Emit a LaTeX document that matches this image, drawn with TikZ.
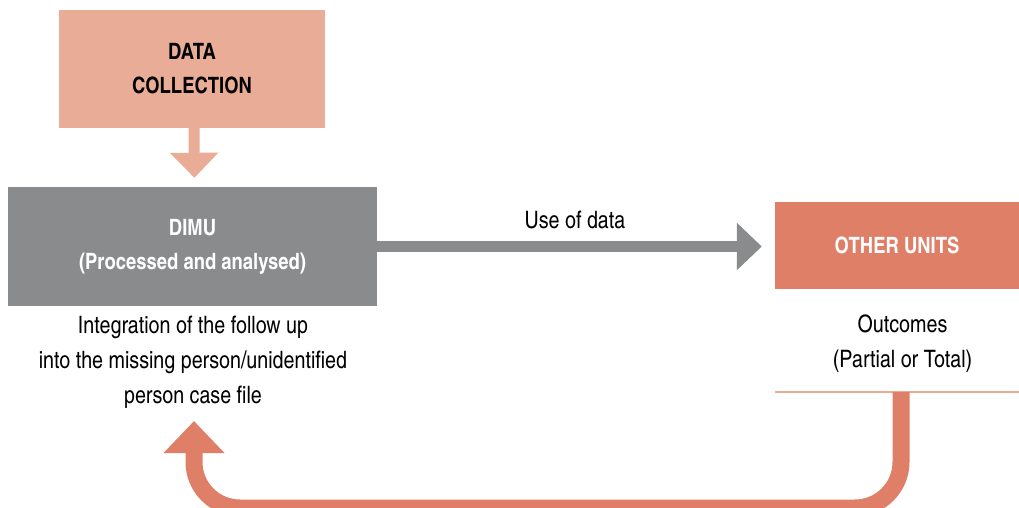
\documentclass[tikz,border=0pt]{standalone}
\usepackage{fontspec}
\setmainfont{texgyreheroscn}[Extension=.otf,UprightFont=*-regular,BoldFont=*-bold,ItalicFont=*-italic,BoldItalicFont=*-bolditalic]
\usetikzlibrary{arrows.meta}
\definecolor{salmonlight}{HTML}{E9AC96}
\definecolor{salmon}{HTML}{E07F68}
\definecolor{greybox}{HTML}{8A8B8D}
\tikzset{
  box/.style={rectangle, inner sep=0pt, align=center},
  title/.style={font=\bfseries\fontsize{22.5}{34}\selectfont},
  body/.style={font=\fontsize{24}{35}\selectfont, align=center, inner sep=0pt},
}
\begin{document}
\begin{tikzpicture}[x=1pt,y=-1pt]
\useasboundingbox (0,0) rectangle (1019,508);
% boxes
\node[box, fill=salmonlight, minimum width=266pt, minimum height=118pt, title] (dc) at (192,69) {DATA\\COLLECTION};
\node[box, fill=greybox, text=white, minimum width=369pt, minimum height=119pt, title] (dimu) at (192.5,246.5) {DIMU\\(Processed and analysed)};
\node[box, fill=salmon, text=white, minimum width=244pt, minimum height=87pt, title] (other) at (897,245.5) {OTHER UNITS};
% texts
\node[body] (desc) at (193,362.5) {Integration of the follow up\\into the missing person/unidentified\\person case file};
\node[body] (outc) at (902.5,343.5) {Outcomes\\(Partial or Total)};
\node[body] (use) at (575,220) {Use of data};
% line under outcomes
\coordinate (lineL) at (775,392);
\coordinate (lineR) at (1019,392);
\draw[salmonlight, line width=1.5pt] (lineL) -- (lineR);
% arrows
\draw[salmonlight, line width=11pt, -{Triangle[length=25pt,width=47pt]}, shorten >=9pt] ([xshift=2pt]dc.south) -- ([xshift=2pt]dimu.north);
\draw[greybox, line width=11pt, -{Triangle[length=25pt,width=46pt]}, shorten >=13pt] (dimu.east) -- (dimu.east -| other.west);
\coordinate (fbstart) at (901,392);
\coordinate (fbend) at (194,421);
\draw[salmon, line width=17pt, rounded corners=46pt, -{Triangle[length=32pt,width=59pt]}] (fbstart) -- (901,508) -- (194,508) -- (fbend);
\end{tikzpicture}
\end{document}
